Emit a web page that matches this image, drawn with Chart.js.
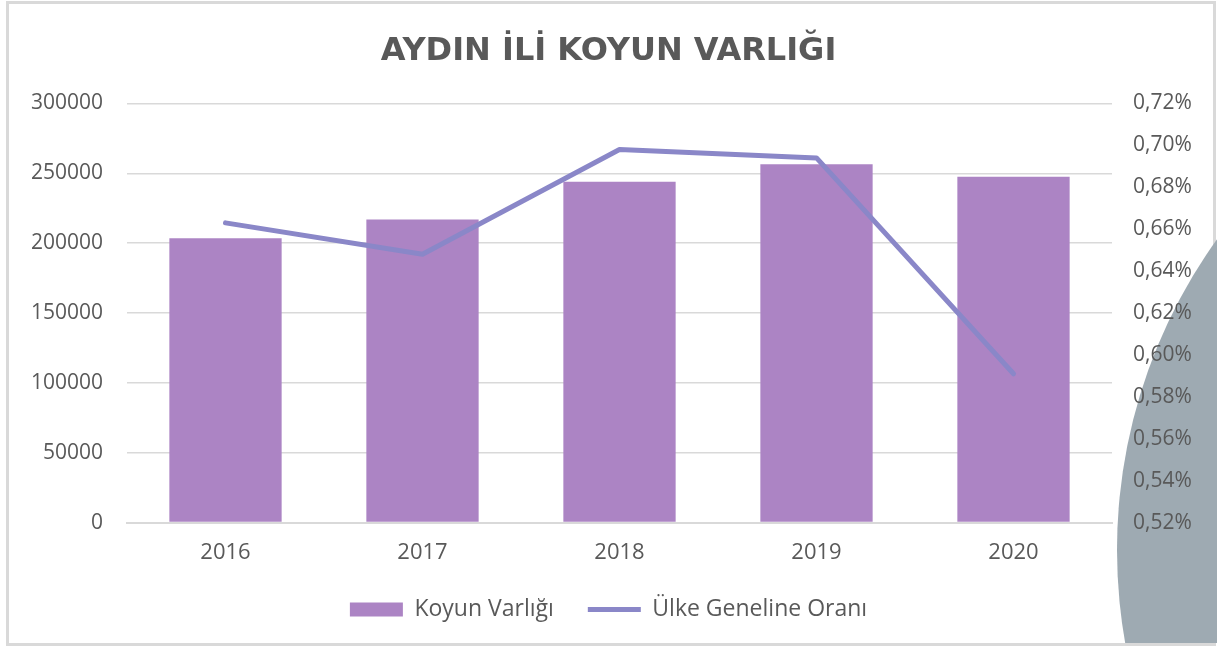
<!DOCTYPE html>
<html>
<head>
<meta charset="utf-8">
<script src="https://cdn.jsdelivr.net/npm/chart.js@4"></script>
<style>
  html, body { margin: 0; padding: 0; background: #fff; }
  #frame { position: absolute; left: 6px; top: 1px; width: 1204px; height: 639px; border: 3px solid #d9d9d9; }
  #clip { position: absolute; left: 0; top: 0; width: 1217px; height: 643px; overflow: hidden; }
  #blob { position: absolute; left: 1117px; top: 17px; width: 1066px; height: 1066px; border-radius: 50%; background: #9eaab2; }
  #wrap { position: absolute; left: 0; top: 0; width: 1217px; height: 646px; }
</style>
</head>
<body>
<div id="frame"></div>
<div id="clip"><div id="blob"></div></div>
<div id="wrap"><canvas id="koyunChart" width="1217" height="646"></canvas></div>
<script>
// Aydın ili koyun varlığı ve ülke geneline oranı
const years = ['2016', '2017', '2018', '2019', '2020'];
const koyunVarligi = [203500, 217000, 244000, 256500, 247500];
const ulkeOrani = [0.663, 0.648, 0.698, 0.694, 0.591]; // yüzde

const leftTicks = { min: 0, max: 300000, step: 50000 };
const rightTicks = { min: 0.52, max: 0.72, step: 0.02 };

const textColor = '#595959';
const gridColor = '#d9d9d9';
const font = 'Open Sans';
const barColor = '#ac84c4';
const lineColor = '#8a87c8';

new Chart(document.getElementById('koyunChart'), {
  data: {
    labels: years,
    datasets: [
      {
        type: 'bar', label: 'Koyun Varlığı', data: koyunVarligi, yAxisID: 'y',
        backgroundColor: barColor, barPercentage: 1, categoryPercentage: 0.57, order: 2
      },
      {
        type: 'line', label: 'Ülke Geneline Oranı', data: ulkeOrani, yAxisID: 'y1',
        borderColor: lineColor, backgroundColor: lineColor, borderWidth: 5,
        borderCapStyle: 'round', borderJoinStyle: 'round', pointRadius: 0, tension: 0, order: 1
      }
    ]
  },
  options: {
    responsive: false,
    animation: false,
    devicePixelRatio: 1,
    layout: { padding: { left: 0, right: 0, top: 15, bottom: 15 } },
    plugins: {
      title: {
        display: true, text: 'AYDIN İLİ KOYUN VARLIĞI', color: textColor,
        font: { family: 'DejaVu Sans', size: 32, weight: 'bold' }, padding: { top: 17, bottom: 33 }
      },
      legend: {
        position: 'bottom',
        labels: {
          color: textColor, font: { family: font, size: 23 },
          usePointStyle: true, pointStyleWidth: 53, boxHeight: 14, padding: 34,
          sort: (a, b) => a.datasetIndex - b.datasetIndex,
          generateLabels(chart) {
            const items = Chart.defaults.plugins.legend.labels.generateLabels(chart);
            items.forEach(it => {
              if (it.datasetIndex === 0) {
                it.pointStyle = 'rect'; it.lineWidth = 0; it.fillStyle = barColor;
              } else {
                it.pointStyle = 'line'; it.lineWidth = 5; it.strokeStyle = lineColor;
              }
            });
            return items;
          }
        }
      },
      tooltip: { enabled: false }
    },
    scales: {
      x: {
        grid: { display: false, drawTicks: false },
        border: { color: gridColor, width: 2 },
        ticks: { color: textColor, font: { family: font, size: 22 }, padding: 17 },
        afterFit: s => { s.height -= 19; }
      },
      y: {
        position: 'left', min: leftTicks.min, max: leftTicks.max,
        grid: { color: gridColor, lineWidth: 1.5, drawTicks: false },
        border: { display: false },
        ticks: { stepSize: leftTicks.step, color: textColor, font: { family: font, size: 21 }, padding: 24,
          callback: v => String(v) },
        afterFit: s => { s.width = 127; }
      },
      y1: {
        position: 'right', min: rightTicks.min, max: rightTicks.max,
        grid: { display: false, drawTicks: false },
        border: { display: false },
        ticks: { stepSize: rightTicks.step, color: textColor, font: { family: font, size: 21 }, padding: 21,
          callback: v => v.toFixed(2).replace('.', ',') + '%' },
        afterFit: s => { s.width = 105; }
      }
    }
  }
});
</script>
</body>
</html>
